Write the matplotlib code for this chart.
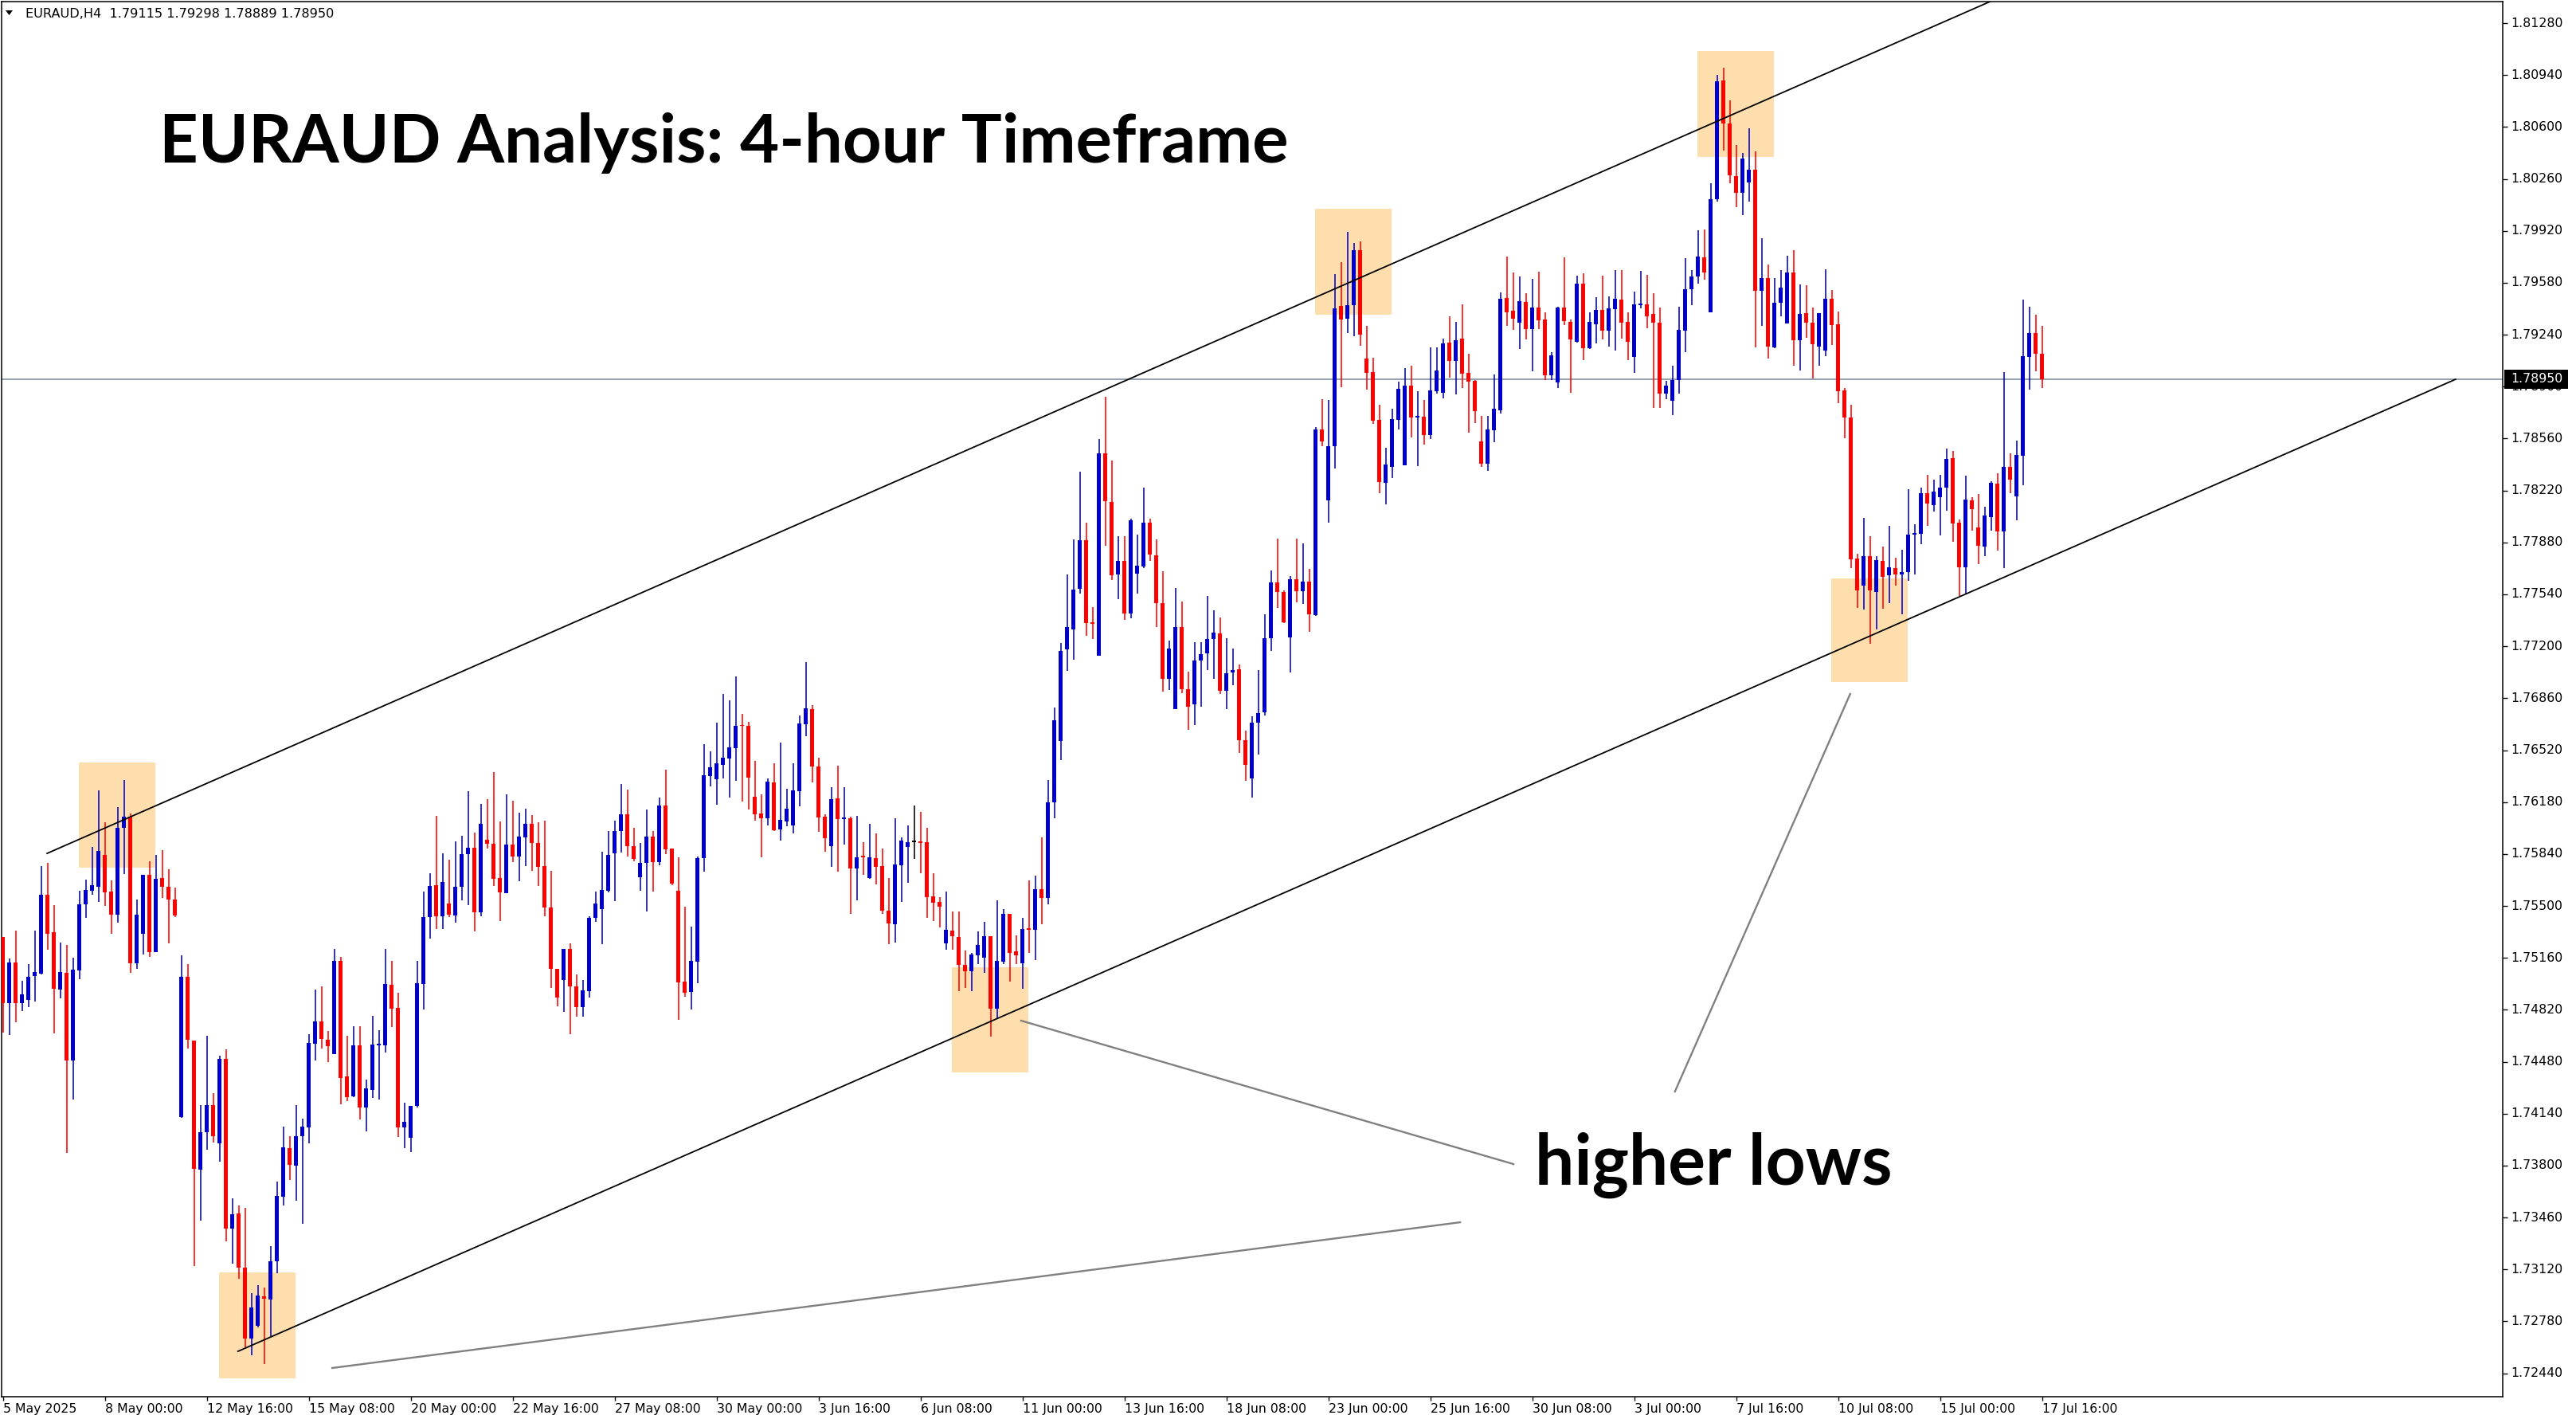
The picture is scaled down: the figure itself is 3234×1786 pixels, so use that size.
import matplotlib
matplotlib.use("Agg")
import matplotlib.pyplot as plt
import matplotlib.transforms as mtransforms
from matplotlib.patches import Rectangle, Polygon
import numpy as np

# EURAUD H4 candles, first bar = 5 May 2025 08:00
opens = [
    1.75295, 1.74862, 1.75129, 1.74862, 1.74887, 1.75039, 1.75059, 1.75574, 1.75329, 1.74954,
    1.75061, 1.74490, 1.75078, 1.75509, 1.75602, 1.75627, 1.75833, 1.75593, 1.75441, 1.76010,
    1.76083, 1.75123, 1.75320, 1.75703, 1.75199, 1.75683, 1.75624, 1.75543, 1.74116, 1.75036,
    1.74620, 1.73772, 1.74017, 1.74197, 1.73944, 1.74501, 1.73389, 1.73485, 1.73130, 1.72666,
    1.72753, 1.72942, 1.72925, 1.73173, 1.73598, 1.73913, 1.73802, 1.73994, 1.74048, 1.74600,
    1.74743, 1.74625, 1.74529, 1.75140, 1.74383, 1.74254, 1.74587, 1.74182, 1.74297, 1.74587,
    1.74587, 1.74984, 1.74833, 1.74050, 1.73981, 1.74192, 1.74991, 1.75425, 1.75636, 1.75430,
    1.75516, 1.75439, 1.75624, 1.75837, 1.75880, 1.75459, 1.75933, 1.75909, 1.75684, 1.75583,
    1.75902, 1.75823, 1.75950, 1.76038, 1.75911, 1.75763, 1.75492, 1.75087, 1.75013, 1.75219,
    1.74972, 1.74838, 1.74944, 1.75423, 1.75478, 1.75600, 1.75844, 1.75990, 1.76098, 1.75894,
    1.75689, 1.75780, 1.75954, 1.75789, 1.76157, 1.75874, 1.75597, 1.75003, 1.74938, 1.75136,
    1.75811, 1.76352, 1.76331, 1.76425, 1.76467, 1.76535, 1.76684, 1.76679, 1.76215, 1.76105,
    1.76075, 1.76309, 1.76002, 1.76055, 1.76029, 1.76253, 1.76691, 1.76788, 1.76413, 1.76084,
    1.75893, 1.76204, 1.76075, 1.76074, 1.75747, 1.75829, 1.75684, 1.75813, 1.75761, 1.75469,
    1.75382, 1.75768, 1.75888, 1.75921, 1.75921, 1.75917, 1.75561, 1.75526, 1.75256, 1.75339,
    1.75296, 1.75112, 1.75070, 1.75175, 1.75163, 1.75303, 1.74830, 1.75133, 1.75450, 1.75202,
    1.75127, 1.75351, 1.75342, 1.75609, 1.75555, 1.76181, 1.76582, 1.77178, 1.77312, 1.77576,
    1.77893, 1.77354, 1.77136, 1.78465, 1.78145, 1.77669, 1.77761, 1.77414, 1.77675, 1.77720,
    1.78007, 1.77797, 1.77480, 1.76989, 1.76788, 1.77327, 1.76920, 1.76818, 1.77109, 1.77154,
    1.77249, 1.77282, 1.76911, 1.77028, 1.77049, 1.76585, 1.76336, 1.76702, 1.76770, 1.77254,
    1.77616, 1.77556, 1.77256, 1.77639, 1.77563, 1.77624, 1.77405, 1.78618, 1.78157, 1.78508,
    1.79427, 1.79347, 1.79434, 1.79794, 1.79083, 1.78995, 1.78682, 1.78271, 1.78376, 1.78684,
    1.78386, 1.78906, 1.78704, 1.78704, 1.78584, 1.78872, 1.78861, 1.79189, 1.79066, 1.79215,
    1.78989, 1.78938, 1.78542, 1.78393, 1.78616, 1.78746, 1.79483, 1.79398, 1.79321, 1.79453,
    1.79278, 1.79419, 1.79340, 1.78972, 1.78930, 1.79419, 1.79323, 1.79193, 1.79574, 1.79153,
    1.79307, 1.79403, 1.79264, 1.79408, 1.79469, 1.79326, 1.79094, 1.79432, 1.79440, 1.79374,
    1.79320, 1.78855, 1.78807, 1.78945, 1.79267, 1.79539, 1.79621, 1.79746, 1.79384, 1.80127,
    1.80904, 1.80624, 1.80278, 1.80169, 1.80238, 1.80321, 1.79525, 1.79613, 1.79158, 1.79448,
    1.79312, 1.79648, 1.79203, 1.79382, 1.79318, 1.79163, 1.79134, 1.79475, 1.79310, 1.78876,
    1.78700, 1.77777, 1.77596, 1.77788, 1.77556, 1.77758, 1.77663, 1.77711, 1.77668, 1.77684,
    1.77934, 1.77939, 1.78200, 1.78124, 1.78178, 1.78241, 1.78432, 1.78010, 1.77719, 1.78156,
    1.77978, 1.77855, 1.78046, 1.78265, 1.77954, 1.78375, 1.78183, 1.78449, 1.79096, 1.79251,
    1.79115,
]
highs = [
    1.75295, 1.75157, 1.75337, 1.75008, 1.75120, 1.75337, 1.75762, 1.75782, 1.75506, 1.75261,
    1.75244, 1.75160, 1.75599, 1.75672, 1.75886, 1.76255, 1.76049, 1.75667, 1.76148, 1.76323,
    1.76106, 1.75543, 1.75703, 1.75793, 1.75833, 1.75866, 1.75740, 1.75622, 1.75177, 1.75120,
    1.74620, 1.74194, 1.74648, 1.74276, 1.74518, 1.74563, 1.73586, 1.73538, 1.73522, 1.72967,
    1.73015, 1.73001, 1.73271, 1.73693, 1.74054, 1.73992, 1.74197, 1.74107, 1.74659, 1.74952,
    1.74974, 1.74681, 1.75219, 1.75169, 1.74649, 1.74714, 1.74714, 1.74364, 1.74778, 1.74685,
    1.75219, 1.75140, 1.74932, 1.74213, 1.74192, 1.75140, 1.75595, 1.75715, 1.76091, 1.75847,
    1.75804, 1.75923, 1.75959, 1.76251, 1.75981, 1.76168, 1.76199, 1.76376, 1.76053, 1.76230,
    1.76189, 1.76110, 1.76136, 1.76096, 1.76048, 1.76057, 1.75732, 1.75087, 1.75219, 1.75255,
    1.75051, 1.75013, 1.75432, 1.75595, 1.75856, 1.75990, 1.76057, 1.76299, 1.76261, 1.76011,
    1.75914, 1.76131, 1.75990, 1.76209, 1.76392, 1.75874, 1.75818, 1.75495, 1.75366, 1.75822,
    1.76559, 1.76512, 1.76700, 1.76888, 1.76846, 1.77002, 1.76755, 1.76705, 1.76449, 1.76230,
    1.76335, 1.76434, 1.76569, 1.76267, 1.76434, 1.76747, 1.77096, 1.76815, 1.76470, 1.76100,
    1.76277, 1.76418, 1.76277, 1.76084, 1.76089, 1.75917, 1.76037, 1.75975, 1.75875, 1.75682,
    1.76074, 1.75949, 1.76027, 1.76157, 1.76115, 1.76011, 1.75714, 1.75557, 1.75594, 1.75462,
    1.75463, 1.75208, 1.75193, 1.75333, 1.75396, 1.75303, 1.75537, 1.75477, 1.75450, 1.75306,
    1.75423, 1.75669, 1.75699, 1.75947, 1.76324, 1.76797, 1.77223, 1.77672, 1.77899, 1.78342,
    1.78007, 1.77459, 1.78558, 1.78836, 1.78417, 1.77923, 1.77923, 1.78034, 1.77932, 1.78240,
    1.78034, 1.77902, 1.77693, 1.77237, 1.77582, 1.77492, 1.77034, 1.77229, 1.77229, 1.77531,
    1.77438, 1.77387, 1.77252, 1.77184, 1.77082, 1.76648, 1.76740, 1.77046, 1.77411, 1.77695,
    1.77906, 1.77565, 1.77660, 1.77905, 1.77873, 1.77709, 1.78635, 1.78819, 1.78812, 1.79636,
    1.79715, 1.79913, 1.79841, 1.79851, 1.79298, 1.79089, 1.78784, 1.78499, 1.78755, 1.78934,
    1.79021, 1.79036, 1.78870, 1.78812, 1.79157, 1.79157, 1.79215, 1.79361, 1.79323, 1.79438,
    1.79115, 1.78944, 1.78710, 1.78710, 1.78980, 1.79517, 1.79751, 1.79645, 1.79623, 1.79513,
    1.79608, 1.79655, 1.79387, 1.79127, 1.79425, 1.79747, 1.79342, 1.79626, 1.79643, 1.79384,
    1.79485, 1.79626, 1.79491, 1.79664, 1.79664, 1.79387, 1.79523, 1.79658, 1.79632, 1.79512,
    1.79419, 1.78940, 1.79038, 1.79424, 1.79741, 1.79661, 1.79924, 1.79930, 1.80233, 1.80941,
    1.80989, 1.80773, 1.80483, 1.80430, 1.80592, 1.80441, 1.79874, 1.79701, 1.79610, 1.79661,
    1.79757, 1.79794, 1.79571, 1.79565, 1.79419, 1.79382, 1.79669, 1.79533, 1.79392, 1.78889,
    1.78783, 1.77806, 1.78043, 1.77921, 1.77791, 1.77854, 1.77990, 1.77780, 1.77833, 1.78229,
    1.78000, 1.78237, 1.78323, 1.78293, 1.78322, 1.78495, 1.78479, 1.78030, 1.78317, 1.78176,
    1.78197, 1.78114, 1.78281, 1.78333, 1.78995, 1.78463, 1.78547, 1.79470, 1.79423, 1.79371,
    1.79298,
]
lows = [
    1.74670, 1.74653, 1.74740, 1.74811, 1.74839, 1.74873, 1.75053, 1.75211, 1.74664, 1.74895,
    1.73882, 1.74234, 1.75019, 1.75422, 1.75571, 1.75526, 1.75498, 1.75318, 1.75391, 1.75709,
    1.75064, 1.75090, 1.75180, 1.75168, 1.75199, 1.75554, 1.75253, 1.75425, 1.74113, 1.74566,
    1.73144, 1.73440, 1.73902, 1.73952, 1.73826, 1.73302, 1.73158, 1.73060, 1.72610, 1.72559,
    1.72742, 1.72503, 1.72683, 1.73094, 1.73541, 1.73707, 1.73572, 1.73420, 1.73944, 1.74487,
    1.74569, 1.74476, 1.74529, 1.74199, 1.74223, 1.74247, 1.74101, 1.74026, 1.74242, 1.74235,
    1.74539, 1.74709, 1.73986, 1.73916, 1.73890, 1.74182, 1.74824, 1.75284, 1.75348, 1.75348,
    1.75427, 1.75392, 1.75538, 1.75507, 1.75336, 1.75435, 1.75878, 1.75633, 1.75399, 1.75583,
    1.75787, 1.75662, 1.75760, 1.75729, 1.75633, 1.75432, 1.74965, 1.74841, 1.74805, 1.74663,
    1.74774, 1.74774, 1.74901, 1.75396, 1.75248, 1.75590, 1.75533, 1.75851, 1.75823, 1.75792,
    1.75601, 1.75465, 1.75594, 1.75768, 1.75841, 1.75637, 1.74754, 1.74905, 1.74823, 1.74994,
    1.75724, 1.76282, 1.76162, 1.76336, 1.76209, 1.76319, 1.76185, 1.76131, 1.76058, 1.75818,
    1.76027, 1.75992, 1.75928, 1.76022, 1.75975, 1.76152, 1.76611, 1.76309, 1.75985, 1.75855,
    1.75756, 1.75724, 1.75902, 1.75448, 1.75536, 1.75703, 1.75677, 1.75641, 1.75448, 1.75249,
    1.75260, 1.75526, 1.75651, 1.75808, 1.75714, 1.75422, 1.75401, 1.75359, 1.75213, 1.75213,
    1.74942, 1.74963, 1.74941, 1.75118, 1.75061, 1.74645, 1.74758, 1.75118, 1.75004, 1.75118,
    1.74959, 1.75190, 1.75148, 1.75378, 1.75513, 1.76073, 1.76456, 1.77040, 1.77112, 1.77543,
    1.77267, 1.77249, 1.77136, 1.77860, 1.77633, 1.77510, 1.77375, 1.77384, 1.77543, 1.77714,
    1.77761, 1.77324, 1.76905, 1.76914, 1.76788, 1.76893, 1.76651, 1.76684, 1.76803, 1.77043,
    1.76989, 1.76890, 1.76791, 1.76947, 1.76501, 1.76321, 1.76211, 1.76489, 1.76749, 1.77170,
    1.77449, 1.77354, 1.77030, 1.77490, 1.77479, 1.77296, 1.77399, 1.78512, 1.78012, 1.78365,
    1.78897, 1.79253, 1.79232, 1.79170, 1.78878, 1.78655, 1.78203, 1.78127, 1.78299, 1.78621,
    1.78386, 1.78565, 1.78382, 1.78523, 1.78555, 1.78857, 1.78825, 1.78961, 1.78851, 1.78893,
    1.78601, 1.78659, 1.78376, 1.78350, 1.78538, 1.78725, 1.79300, 1.79274, 1.79146, 1.79210,
    1.79002, 1.79276, 1.78944, 1.78942, 1.78893, 1.79302, 1.78859, 1.79189, 1.79074, 1.79149,
    1.79185, 1.79211, 1.79163, 1.79134, 1.79217, 1.79073, 1.78988, 1.79411, 1.79280, 1.78762,
    1.78762, 1.78820, 1.78716, 1.78855, 1.79126, 1.79432, 1.79573, 1.79602, 1.79384, 1.80113,
    1.80443, 1.80233, 1.80076, 1.80023, 1.80113, 1.79158, 1.79299, 1.79084, 1.79153, 1.79363,
    1.79312, 1.79038, 1.79006, 1.79219, 1.78956, 1.79038, 1.79099, 1.79174, 1.78793, 1.78562,
    1.77710, 1.77450, 1.77439, 1.77216, 1.77311, 1.77444, 1.77484, 1.77599, 1.77412, 1.77628,
    1.77671, 1.77870, 1.77987, 1.78082, 1.77926, 1.78088, 1.77884, 1.77529, 1.77540, 1.77957,
    1.77738, 1.77792, 1.77957, 1.77829, 1.77714, 1.78202, 1.78027, 1.78256, 1.78882, 1.79001,
    1.78889,
]
closes = [
    1.74862, 1.75129, 1.74862, 1.74923, 1.75036, 1.75067, 1.75574, 1.75320, 1.74960, 1.75067,
    1.74490, 1.75084, 1.75512, 1.75605, 1.75636, 1.75861, 1.75591, 1.75441, 1.76013, 1.76083,
    1.75126, 1.75441, 1.75703, 1.75197, 1.75678, 1.75624, 1.75540, 1.75436, 1.75036, 1.74622,
    1.73781, 1.74020, 1.74197, 1.73994, 1.74501, 1.73389, 1.73482, 1.73130, 1.72666, 1.72871,
    1.72950, 1.72930, 1.73173, 1.73600, 1.73918, 1.73803, 1.73992, 1.74054, 1.74603, 1.74743,
    1.74631, 1.74580, 1.75140, 1.74376, 1.74249, 1.74587, 1.74182, 1.74307, 1.74592, 1.74599,
    1.74989, 1.74826, 1.74050, 1.74086, 1.74192, 1.74996, 1.75425, 1.75631, 1.75430, 1.75657,
    1.75444, 1.75626, 1.75839, 1.75880, 1.75459, 1.76038, 1.75909, 1.75679, 1.75588, 1.75902,
    1.75823, 1.75954, 1.76038, 1.75911, 1.75758, 1.75492, 1.75087, 1.74903, 1.75219, 1.74972,
    1.74838, 1.74948, 1.75423, 1.75518, 1.75605, 1.75835, 1.75990, 1.76098, 1.75894, 1.75810,
    1.75780, 1.75954, 1.75789, 1.76157, 1.75872, 1.75646, 1.75001, 1.74933, 1.75140, 1.75813,
    1.76355, 1.76408, 1.76434, 1.76470, 1.76538, 1.76679, 1.76681, 1.76342, 1.76102, 1.76075,
    1.76314, 1.75997, 1.76063, 1.76136, 1.76256, 1.76695, 1.76794, 1.76415, 1.76081, 1.75945,
    1.76199, 1.76070, 1.76077, 1.75747, 1.75818, 1.75822, 1.75818, 1.75757, 1.75470, 1.75387,
    1.75771, 1.75928, 1.75917, 1.75921, 1.75915, 1.75559, 1.75522, 1.75496, 1.75343, 1.75300,
    1.75112, 1.75070, 1.75184, 1.75246, 1.75303, 1.74830, 1.75142, 1.75450, 1.75193, 1.75178,
    1.75351, 1.75345, 1.75609, 1.75552, 1.76181, 1.76714, 1.77172, 1.77324, 1.77573, 1.77893,
    1.77354, 1.77348, 1.78465, 1.78148, 1.77663, 1.77761, 1.77417, 1.78025, 1.77729, 1.78007,
    1.77803, 1.77480, 1.76989, 1.77184, 1.77327, 1.76920, 1.76806, 1.77109, 1.77148, 1.77249,
    1.77288, 1.76911, 1.77025, 1.77043, 1.76585, 1.76426, 1.76702, 1.76764, 1.77252, 1.77616,
    1.77558, 1.77358, 1.77639, 1.77563, 1.77624, 1.77411, 1.78618, 1.78544, 1.78508, 1.79413,
    1.79342, 1.79434, 1.79794, 1.79242, 1.78991, 1.78678, 1.78278, 1.78391, 1.78687, 1.78885,
    1.78906, 1.78699, 1.78706, 1.78584, 1.78876, 1.79006, 1.79185, 1.79070, 1.79204, 1.78983,
    1.78934, 1.78742, 1.78393, 1.78618, 1.78755, 1.79474, 1.79389, 1.79347, 1.79459, 1.79278,
    1.79419, 1.79336, 1.78972, 1.79104, 1.79419, 1.79327, 1.79210, 1.79574, 1.79153, 1.79326,
    1.79403, 1.79264, 1.79413, 1.79475, 1.79320, 1.79195, 1.79440, 1.79445, 1.79360, 1.79320,
    1.78855, 1.78908, 1.78945, 1.79273, 1.79539, 1.79621, 1.79752, 1.79650, 1.80127, 1.80898,
    1.80624, 1.80286, 1.80169, 1.80393, 1.80321, 1.79525, 1.79613, 1.79161, 1.79451, 1.79549,
    1.79648, 1.79203, 1.79376, 1.79318, 1.79177, 1.79382, 1.79475, 1.79304, 1.78868, 1.78700,
    1.77772, 1.77564, 1.77788, 1.77564, 1.77764, 1.77657, 1.77716, 1.77668, 1.77684, 1.77929,
    1.77937, 1.78200, 1.78136, 1.78213, 1.78239, 1.78427, 1.78006, 1.77719, 1.78161, 1.78100,
    1.77860, 1.78056, 1.78270, 1.77954, 1.78375, 1.78293, 1.78453, 1.79100, 1.79251, 1.79117,
    1.78950,
]

time_labels = ["5 May 2025", "8 May 00:00", "12 May 16:00", "15 May 08:00", "20 May 00:00",
               "22 May 16:00", "27 May 08:00", "30 May 00:00", "3 Jun 16:00", "6 Jun 08:00",
               "11 Jun 00:00", "13 Jun 16:00", "18 Jun 08:00", "23 Jun 00:00", "25 Jun 16:00",
               "30 Jun 08:00", "3 Jul 00:00", "7 Jul 16:00", "10 Jul 08:00", "15 Jul 00:00",
               "17 Jul 16:00"]
price_ticks = [1.72440, 1.72780, 1.73120, 1.73460, 1.73800, 1.74140, 1.74480, 1.74820,
               1.75160, 1.75500, 1.75840, 1.76180, 1.76520, 1.76860, 1.77200, 1.77540,
               1.77880, 1.78220, 1.78560, 1.78900, 1.79240, 1.79580, 1.79920, 1.80260,
               1.80600, 1.80940, 1.81280]

# highlighted zones: (first bar, last bar, low, high)
zones = [(11.9, 23.9, 1.75750, 1.76439), (33.9, 45.9, 1.72407, 1.73100),
         (148.9, 160.9, 1.74410, 1.75098), (205.9, 217.9, 1.79371, 1.80065),
         (265.9, 277.9, 1.80404, 1.81097), (286.9, 298.9, 1.76966, 1.77644)]
channel_top = [(6.94, 1.75844), (330.0, 1.81753)]
channel_bottom = [(36.9, 1.72584), (384.9, 1.78948)]
pointers = [[(159.8, 1.74749), (237.06, 1.73810)],
            [(51.7, 1.72475), (228.7, 1.73429)],
            [(289.9, 1.76888), (262.4, 1.74285)]]

BULL = "#0000cd"
BEAR = "#ff0000"

W, H = 3234, 1786
fig = plt.figure(figsize=(W / 100, H / 100), dpi=100)
ax = fig.add_axes([2 / W, 1 - 1753 / H, 3140 / W, 1751 / H])
ax.set_xlim(-0.19, 392.3)
ax.set_ylim(1.72287, 1.81421)

o = np.array(opens)
h = np.array(highs)
l = np.array(lows)
c = np.array(closes)
x = np.arange(len(o))

cols = ["black" if cc == oo else (BULL if cc > oo else BEAR) for oo, cc in zip(o, c)]
ax.vlines(x, l, h, colors=cols, linewidth=1.15, zorder=3)
min_h = 0.00009
body = np.abs(c - o)
bottom = np.where(body < min_h, (o + c) / 2 - min_h / 2, np.minimum(o, c))
ax.bar(x, np.maximum(body, min_h), bottom=bottom, width=0.66, color=cols,
       linewidth=0, zorder=3)

for x0, x1, y0, y1 in zones:
    ax.add_patch(Rectangle((x0, y0), x1 - x0, y1 - y0, facecolor="#ffdead",
                           edgecolor="none", zorder=1))

# current price line
ax.axhline(closes[-1], color="#778899", linewidth=1.1, zorder=1.5)

for line in (channel_top, channel_bottom):
    ax.plot([p[0] for p in line], [p[1] for p in line], color="black",
            linewidth=1.3, zorder=4)
for seg in pointers:
    ax.plot([p[0] for p in seg], [p[1] for p in seg], color="#808080",
            linewidth=1.7, zorder=4)

for s in ax.spines.values():
    s.set_linewidth(1.1)
    s.set_color("black")

ax.set_yticks(price_ticks)
ax.yaxis.tick_right()
ax.tick_params(axis="y", direction="out", length=4.5, width=1,
               labelright=False, labelleft=False)
label_bars = [16 * i for i in range(len(time_labels))]
ax.set_xticks(label_bars)
ax.tick_params(axis="x", direction="out", length=3.5, width=1, labelbottom=False)

axis_font = dict(family="DejaVu Sans", fontsize=11.3, color="black")
ytr = mtransforms.blended_transform_factory(fig.transFigure, ax.transData)
for p in price_ticks:
    ax.text(3152 / W, p, f"{p:.5f}", transform=ytr, ha="left", va="center",
            clip_on=False, **axis_font)
xtr = mtransforms.blended_transform_factory(ax.transData, fig.transFigure)
for k, lab in zip(label_bars, time_labels):
    ax.text(k + 0.1, 1 - 1768 / H, lab, transform=xtr, ha="left", va="center",
            clip_on=False, **axis_font)

# price tag for the last close
ax.add_patch(Rectangle((3144 / W, closes[-1] - 0.00063), 80 / W, 0.00126,
                       transform=ytr, facecolor="black", edgecolor="none",
                       clip_on=False, zorder=6))
ax.text(3152 / W, closes[-1], f"{closes[-1]:.5f}", transform=ytr, ha="left",
        va="center", clip_on=False, zorder=7, family="DejaVu Sans",
        fontsize=11.3, color="white")

# header line of the terminal window
fig.patches.append(Polygon([(7 / W, 1 - 13 / H), (16 / W, 1 - 13 / H),
                            (11.5 / W, 1 - 19 / H)], closed=True,
                           transform=fig.transFigure, facecolor="black"))
fig.text(32 / W, 1 - 17 / H,
         f"EURAUD,H4  {opens[-1]:.5f} {highs[-1]:.5f} {lows[-1]:.5f} {closes[-1]:.5f}",
         ha="left", va="center", family="DejaVu Sans", fontsize=11.6)

fig.text(200 / W, 1 - 204 / H, "EURAUD Analysis: 4-hour Timeframe",
         family="Lato", fontweight="bold", fontsize=61.2, ha="left", va="baseline")
fig.text(1927 / W, 1 - 1487 / H, "higher lows",
         family="Lato", fontweight="bold", fontsize=63, ha="left", va="baseline")

fig.savefig("out.png", dpi=100, facecolor="white")
